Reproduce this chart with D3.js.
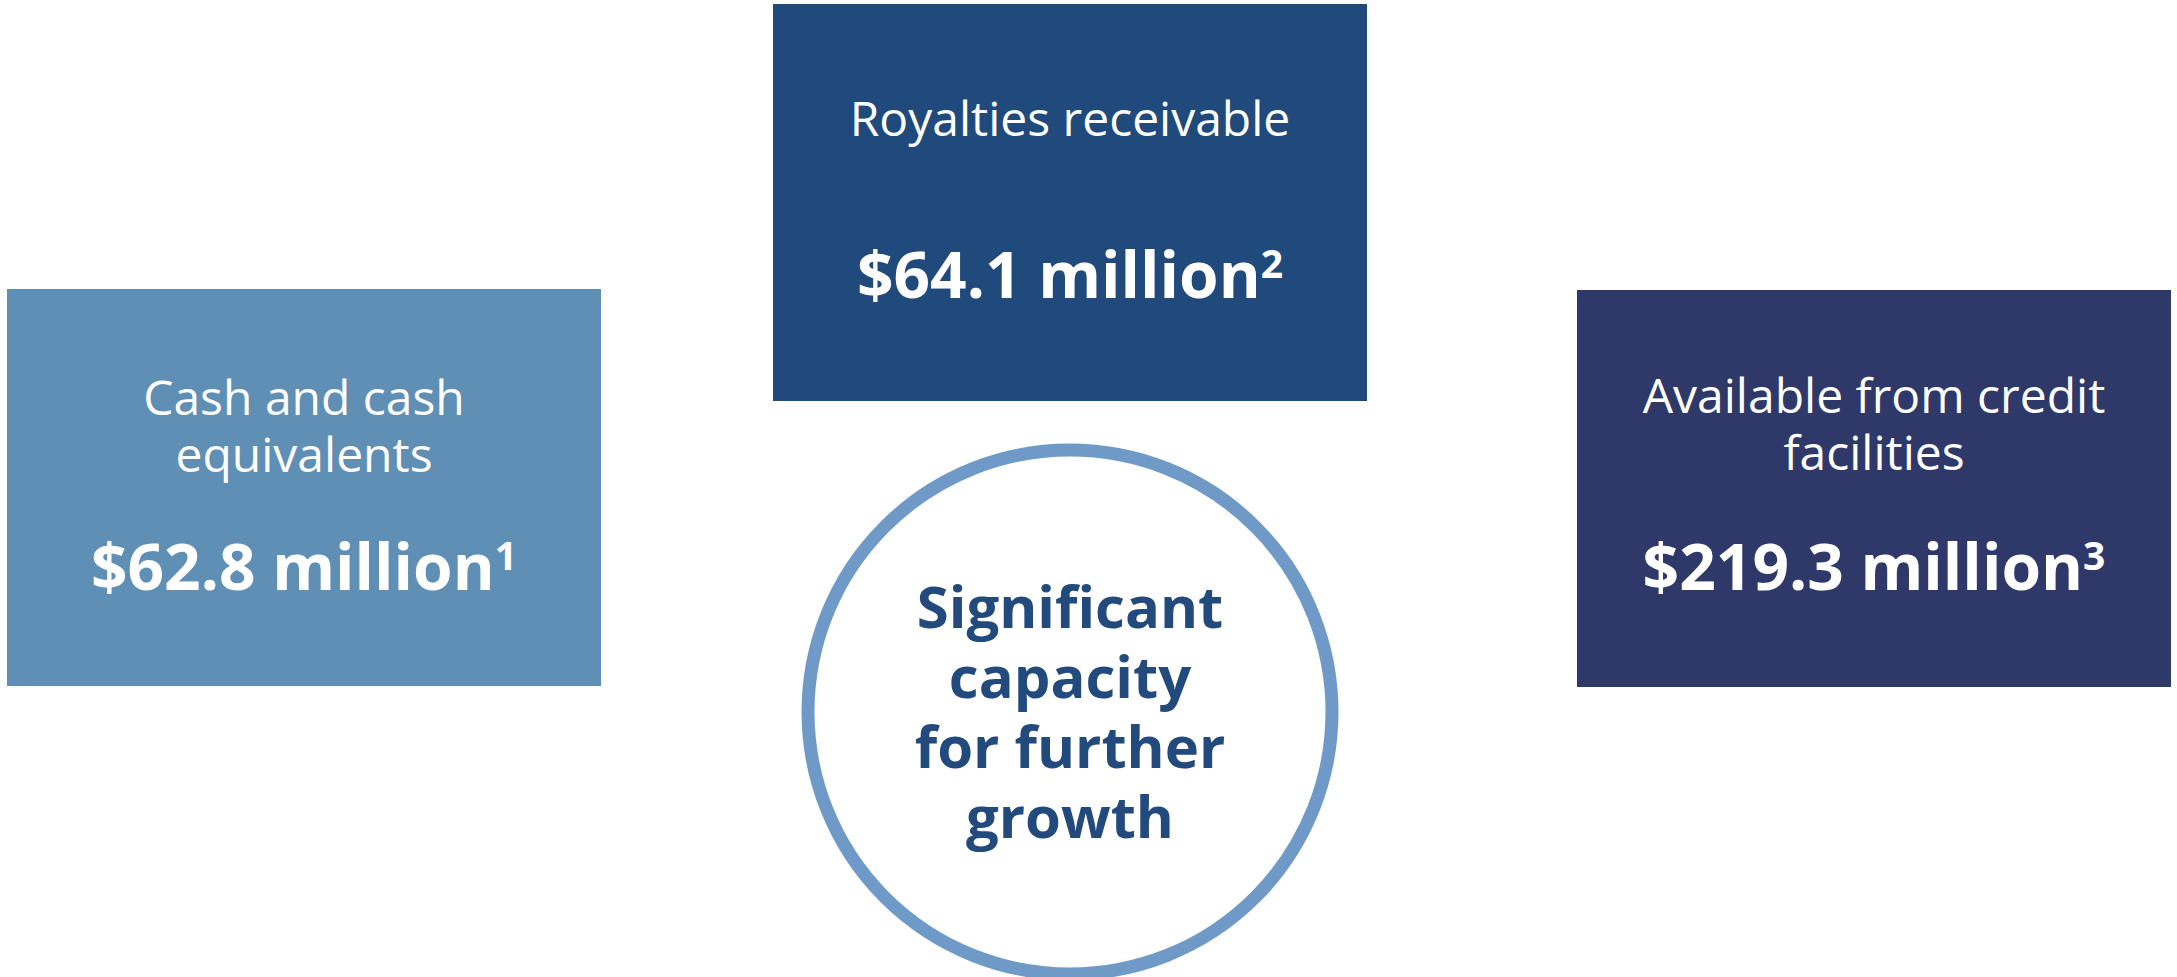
<!DOCTYPE html>
<html>
<head>
<meta charset="utf-8">
<script src="https://cdn.jsdelivr.net/npm/d3@7"></script>
<style>
  html, body { margin: 0; padding: 0; background: #ffffff; overflow: hidden; }
  svg { display: block; }
  text { font-family: "Open Sans", "Noto Sans", sans-serif; }
</style>
</head>
<body>
<svg id="chart" width="2177" height="977"></svg>
<script>
// ---- data ----
const categories = ["Cash and cash equivalents", "Royalties receivable", "Available from credit facilities"];
const labelLines = [["Cash and cash", "equivalents"], ["Royalties receivable"], ["Available from credit", "facilities"]];
const values = [62.8, 64.1, 219.3];
const footnotes = ["1", "2", "3"];
const centerLines = ["Significant", "capacity", "for further", "growth"];

// ---- layout ----
const W = 2177, H = 977;
const svg = d3.select("#chart");
const fills = d3.scaleOrdinal().domain(categories).range(["#5f8fb5", "#214a7c", "#2e3969"]);
const boxX = d3.scaleOrdinal().domain(categories).range([7, 773, 1577]);
const boxY = d3.scaleOrdinal().domain(categories).range([289, 4, 290]);
const boxW = 594, boxH = 397;
// baselines relative to box top for label lines and value
const labelBase = d3.scaleOrdinal().domain(categories).range([126, 132, 123]);
const valueBase = d3.scaleOrdinal().domain(categories).range([301, 294, 300]);

const items = categories.map((c, i) => ({ cat: c, lines: labelLines[i], value: values[i], note: footnotes[i] }));

const g = svg.selectAll("g.box").data(items).join("g")
  .attr("class", "box")
  .attr("transform", d => `translate(${boxX(d.cat)},${boxY(d.cat)})`);

g.append("rect")
  .attr("width", boxW).attr("height", boxH)
  .attr("fill", d => fills(d.cat));

g.each(function(d) {
  const sel = d3.select(this);
  d.lines.forEach((ln, j) => {
    sel.append("text")
      .attr("x", boxW / 2)
      .attr("y", labelBase(d.cat) + j * 57)
      .attr("text-anchor", "middle")
      .attr("fill", "#ffffff")
      .attr("font-size", 48)
      .attr("font-weight", 400)
      .text(ln);
  });
  const t = sel.append("text")
    .attr("x", boxW / 2)
    .attr("y", valueBase(d.cat))
    .attr("text-anchor", "middle")
    .attr("fill", "#ffffff")
    .attr("font-size", 64)
    .attr("font-weight", 700);
  t.append("tspan").text("$" + d3.format(".1f")(d.value) + " million");
  t.append("tspan").attr("font-size", 39).attr("dy", -20).text(d.note);
});

// ---- centre circle ----
const cx = 1070, cy = 712, r = 262;
svg.append("circle")
  .attr("cx", cx).attr("cy", cy).attr("r", r)
  .attr("fill", "#ffffff")
  .attr("stroke", "#6f9ac8")
  .attr("stroke-width", 13);

svg.selectAll("text.center").data(centerLines).join("text")
  .attr("class", "center")
  .attr("x", cx)
  .attr("y", (d, i) => 628 + i * 70)
  .attr("text-anchor", "middle")
  .attr("fill", "#224a7d")
  .attr("font-size", 58)
  .attr("font-weight", 700)
  .text(d => d);
</script>
</body>
</html>
